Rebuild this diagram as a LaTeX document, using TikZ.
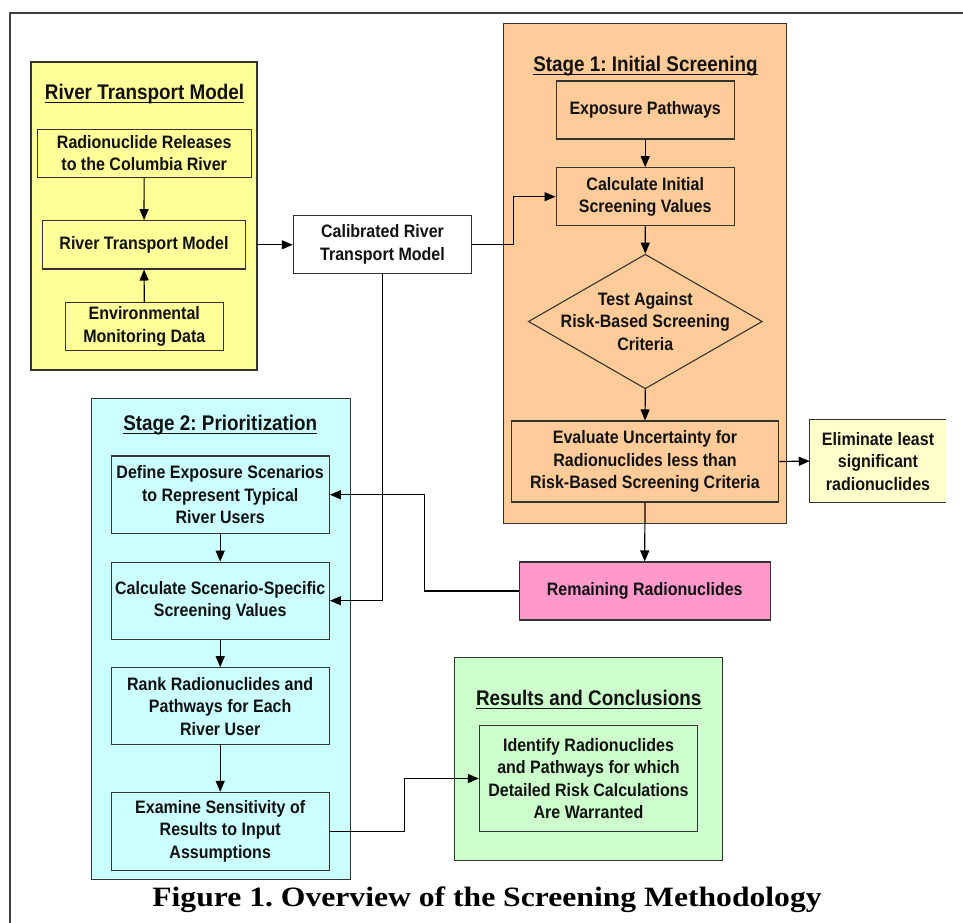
\documentclass[tikz,border=0pt]{standalone}
\usepackage{fontspec}
\usetikzlibrary{shapes.geometric,arrows.meta}
\newfontfamily\boxfont{Liberation Sans}[FakeStretch=0.89]
\newfontfamily\capfont{Liberation Serif}[FakeStretch=1.13]
\frenchspacing
\definecolor{cyel}{HTML}{FFFF99}
\definecolor{corg}{HTML}{FFCC99}
\definecolor{ccyn}{HTML}{CCFFFF}
\definecolor{cgrn}{HTML}{CCFFCC}
\definecolor{cpnk}{HTML}{FF99CC}
\definecolor{clye}{HTML}{FFFFCC}
\definecolor{bdc}{HTML}{333333}
\definecolor{txc}{HTML}{111111}
\tikzset{
  bd/.style={draw=bdc, line width=1.1pt},
  box/.style={bd, rectangle, align=center, inner sep=0pt, text=txc,
    font=\boxfont\bfseries\fontsize{18}{22.5}\selectfont},
  cont/.style={bd, rectangle, inner sep=0pt},
  ttl/.style={inner sep=0pt, anchor=base, text=txc,
    font=\boxfont\bfseries\fontsize{21.2}{24}\selectfont},
  uline/.style={line width=1.9pt, txc},
  arr/.style={draw=black, line width=1.2pt, -{Triangle[length=11pt,width=9pt]}},
}
\begin{document}
\begin{tikzpicture}[x=1pt,y=-1pt]
\useasboundingbox (0,0) rectangle (963,922);
\clip (0,0) rectangle (963,922);
\fill[white] (0,0) rectangle (963,922);
% outer frame
\draw[line width=2pt, black!75] (10,12.5) rectangle (1000,1000);

% ---------- River Transport Model container ----------
\node[cont, fill=cyel, minimum width=226pt, minimum height=308pt] (ycont) at (144,216) {};
\node[ttl] (t0) at (144.5,99) {River Transport Model};
\draw[uline] ([yshift=-3.5pt]t0.base west) -- ([yshift=-3.5pt]t0.base east);
\node[box, fill=cyel, minimum width=214pt, minimum height=48pt] (rel) at (144.2,153.3) {Radionuclide Releases\\to the Columbia River};
\node[box, fill=cyel, minimum width=202.6pt, minimum height=48.3pt] (rtm) at (144,244.8) {River Transport Model};
\node[box, fill=cyel, minimum width=158pt, minimum height=48.4pt] (env) at (144.3,326.5) {Environmental\\Monitoring Data};

% ---------- Calibrated ----------
\node[box, fill=white, minimum width=178.4pt, minimum height=57.6pt] (cal) at (382.5,244.5) {Calibrated River\\Transport Model};

% ---------- Stage 1 ----------
\node[cont, fill=corg, minimum width=283.4pt, minimum height=499.6pt] (s1) at (645,273.5) {};
\node[ttl] (t1) at (645.5,71) {Stage 1: Initial Screening};
\draw[uline] ([yshift=-3.5pt]t1.base west) -- ([yshift=-3.5pt]t1.base east);
\node[box, fill=corg, minimum width=178.3pt, minimum height=58pt] (exp) at (645.2,110) {Exposure Pathways};
\node[box, fill=corg, minimum width=178.3pt, minimum height=58pt] (ci) at (645.2,196.7) {Calculate Initial\\Screening Values};
\node[bd, diamond, fill=corg, inner sep=0pt, minimum width=234pt, minimum height=134.6pt] (test) at (645.3,321.5) {};
\node[box, draw=none, align=center] (testtxt) at (test.center) {Test Against\\Risk-Based Screening\\Criteria};
\node[box, fill=corg, minimum width=267.4pt, minimum height=81pt] (ev) at (645,461.5) {Evaluate Uncertainty for\\Radionuclides less than\\Risk-Based Screening Criteria};
\node[box, draw=none, fill=clye, minimum width=135.4pt, minimum height=81.8pt] (el) at (878,461.1) {Eliminate least\\significant\\radionuclides};
\draw[bd] (el.north east) -- (el.north west) -- (el.south west) -- (el.south east);

% ---------- Remaining ----------
\node[box, fill=cpnk, minimum width=251pt, minimum height=58pt] (rem) at (644.7,591) {Remaining Radionuclides};

% ---------- Results ----------
\node[cont, fill=cgrn, minimum width=268.2pt, minimum height=202.6pt] (gr) at (588.3,759) {};
\node[ttl] (t3) at (588.7,705) {Results and Conclusions};
\draw[uline] ([yshift=-3.5pt]t3.base west) -- ([yshift=-3.5pt]t3.base east);
\node[box, fill=cgrn, minimum width=218.3pt, minimum height=106.4pt] (idn) at (588.5,778.5) {Identify Radionuclides\\and Pathways for which\\Detailed Risk Calculations\\Are Warranted};

% ---------- Stage 2 ----------
\node[cont, fill=ccyn, minimum width=259pt, minimum height=481.2pt] (s2) at (220.8,638.9) {};
\node[ttl] (t2) at (220.3,430) {Stage 2: Prioritization};
\draw[uline] ([yshift=-3.5pt]t2.base west) -- ([yshift=-3.5pt]t2.base east);
\node[box, fill=ccyn, minimum width=218.3pt, minimum height=77.5pt] (def) at (220.2,494.75) {Define Exposure Scenarios\\to Represent Typical\\River Users};
\node[box, fill=ccyn, minimum width=218.3pt, minimum height=77pt] (css) at (220.2,600.7) {Calculate Scenario-Specific\\Screening Values};
\node[box, fill=ccyn, minimum width=218.3pt, minimum height=77.1pt] (rk) at (220.2,706.2) {Rank Radionuclides and\\Pathways for Each\\River User};
\node[box, fill=ccyn, minimum width=218.3pt, minimum height=77.7pt] (exa) at (220.2,831.25) {Examine Sensitivity of\\Results to Input\\Assumptions};

% ---------- caption ----------
\node[inner sep=0pt, anchor=base, font=\capfont\bfseries\fontsize{28}{30}\selectfont] (cap) at (487,906.7) {Figure 1. Overview of the Screening Methodology};

% ---------- junction coordinates ----------
\coordinate (j1) at (513.3,0);
\coordinate (j2) at (424.3,0);
\coordinate (j3) at (404.3,0);

% ---------- connectors ----------
\draw[arr] (rel) -- (rtm);
\draw[arr] (env) -- (rtm);
\draw[arr] (ycont.east |- rtm.east) -- (cal.west |- rtm.east);
\draw[arr] (cal.east) -- (cal.east -| j1) |- (ci.west);
\draw[arr] (exp) -- (ci);
\draw[arr] (ci) -- (test.north);
\draw[arr] (test.south) -- (ev.north);
\draw[arr] (ev.east) -- (el.west);
\draw[arr] (ev.south) -- (rem.north);
\draw[arr] (rem.west) -- (rem.west -| j2) |- (def.east);
\draw[arr] (cal.south) |- (css.east);
\draw[arr] (def) -- (css);
\draw[arr] (css) -- (rk);
\draw[arr] (rk) -- (exa);
\draw[arr] (exa.east) -- (exa.east -| j3) |- (idn.west);
\end{tikzpicture}
\end{document}
